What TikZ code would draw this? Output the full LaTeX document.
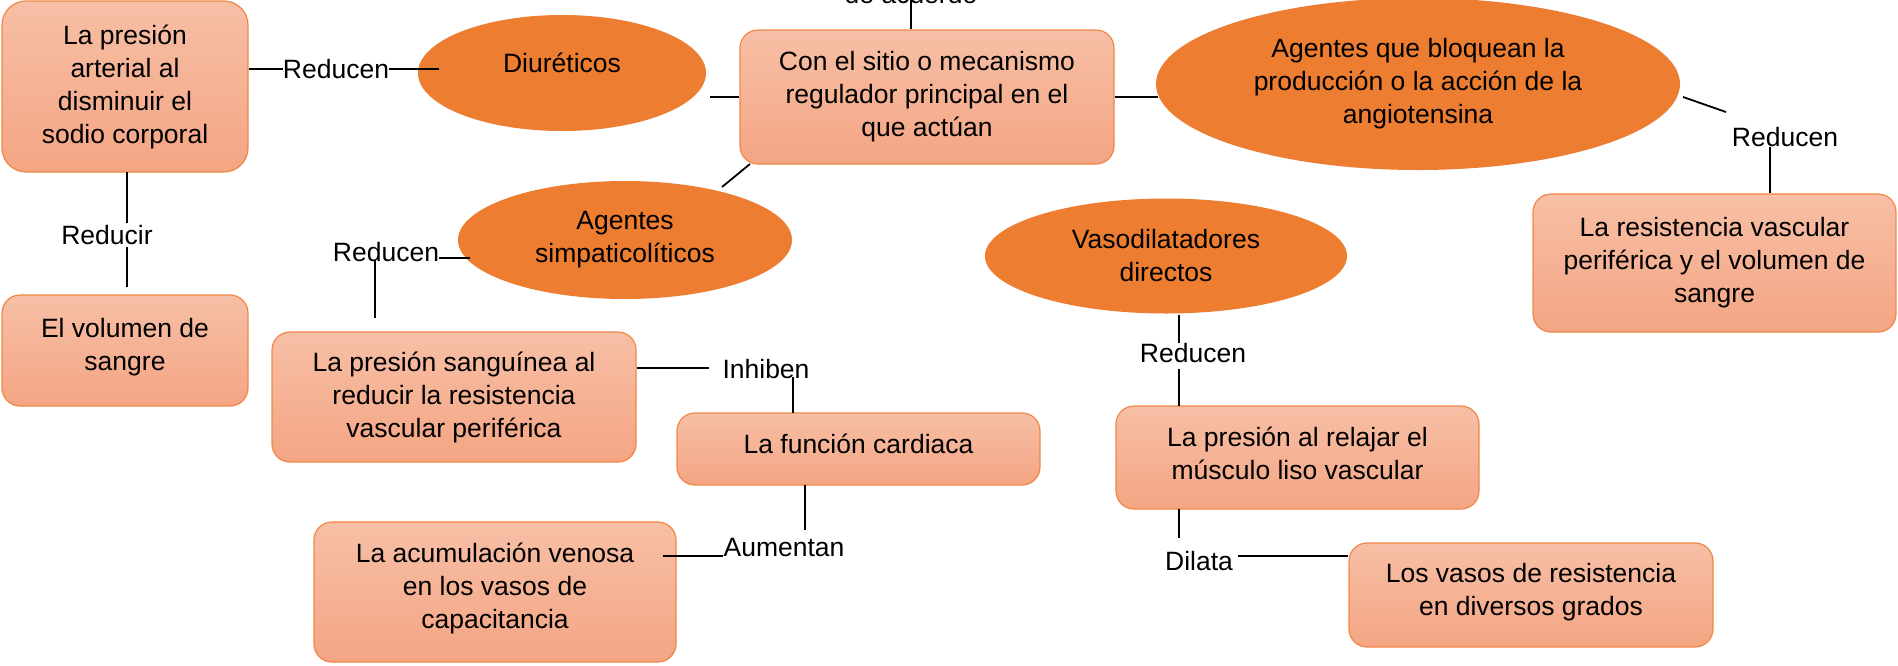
\documentclass[tikz,border=0pt]{standalone}
\usepackage{fontspec}
\setmainfont{Liberation Sans}
\usetikzlibrary{shapes.geometric}
\definecolor{boxtop}{RGB}{247,191,166}
\definecolor{boxbot}{RGB}{244,165,131}
\definecolor{boxdraw}{RGB}{240,135,70}
\definecolor{ellfill}{RGB}{237,125,49}
\newcommand{\fs}{\fontsize{26.5}{33}\selectfont}
\tikzset{
  box/.style={rectangle, rounded corners=18pt, draw=boxdraw, line width=1.2pt,
    top color=boxtop, bottom color=boxbot, inner sep=0pt, align=center, font=\fs},
  ell/.style={ellipse, fill=ellfill, draw=none, inner sep=0pt, align=center, font=\fs},
  lbl/.style={inner sep=0pt, font=\fs},
  conn/.style={draw=black, line width=1.8pt},
}
\begin{document}
\begin{tikzpicture}[x=1pt,y=-1pt]
\useasboundingbox (0,0) rectangle (1898,665);
% ellipses
\node[ell, minimum width=288pt, minimum height=116pt] (diur) at (562,73) {};
\node[lbl] (diurt) at (562,63) {Diuréticos};
\node[ell, minimum width=524pt, minimum height=172pt] (B) at (1418,84) {Agentes que bloquean la\\producción o la acción de la\\angiotensina};
\node[ell, minimum width=334pt, minimum height=118pt] (E) at (625,240) {Agentes\\simpaticolíticos};
\node[ell, minimum width=362pt, minimum height=115pt] (K) at (1166,256) {Vasodilatadores\\directos};
% boxes
\node[box, rounded corners=24pt, minimum width=246pt, minimum height=171pt] (A) at (125,86.5) {La presión\\arterial al\\disminuir el\\sodio corporal};
\node[box, minimum width=374pt, minimum height=134pt] (C) at (927,97) {Con el sitio o mecanismo\\regulador principal en el\\que actúan};
\node[box, minimum width=363pt, minimum height=138pt] (D) at (1714.5,263) {La resistencia vascular\\periférica y el volumen de\\sangre};
\node[box, minimum width=364pt, minimum height=130pt] (F) at (454,397) {La presión sanguínea al\\reducir la resistencia\\vascular periférica};
\node[box, minimum width=363pt, minimum height=72pt, text depth=10pt] (G) at (858.5,449) {La función cardiaca};
\node[box, minimum width=362pt, minimum height=140pt, text depth=11.6pt] (H) at (495,592) {La acumulación venosa\\en los vasos de\\capacitancia};
\node[box, minimum width=246pt, minimum height=111pt, text depth=13pt] (I) at (125,350.5) {El volumen de\\sangre};
\node[box, minimum width=363pt, minimum height=103pt, text depth=8pt] (J) at (1297.5,457.5) {La presión al relajar el\\músculo liso vascular};
\node[box, minimum width=364pt, minimum height=104pt, text depth=11pt] (L) at (1531,595) {Los vasos de resistencia\\en diversos grados};
% labels
\node[lbl] (r1) at (336,69) {Reducen};
\node[lbl, anchor=base] (acu) at (911,3) {de acuerdo};
\node[lbl] (r5) at (1785,137) {Reducen};
\node[lbl] (r7) at (386,252) {Reducen};
\node[lbl] (r8) at (766,369) {Inhiben};
\node[lbl] (r9) at (784,548) {Aumentan};
\node[lbl] (r10) at (1193,353) {Reducen};
\node[lbl] (r11) at (1199,561) {Dilata};
\node[lbl] (r12) at (107,235) {Reducir};
% connectors
\draw[conn] (A.east |- r1) -- (r1.west);
\draw[conn] (r1.east) -- (439,69);
\draw[conn] (C.west) -- (710,97);
\draw[conn] (acu.center |- 0,0) -- (acu.center |- C.north);
\draw[conn] (C.east) -- (1158,97);
\draw[conn] (1683,97) -- (1726,112);
\coordinate (r5b) at (1770,147);
\draw[conn] (r5b) -- (r5b |- D.north);
\draw[conn] (750,164) -- (722,187);
\draw[conn] (r7.east |- 0,258) -- (470,258);
\draw[conn] (375,260) -- (375,318);
\draw[conn] (F.east |- 0,368) -- (709,368);
\draw[conn] (793,377) -- (793 ,413);
\draw[conn] (805,485) -- (805,530);
\draw[conn] (663,556) -- (723,556);
\draw[conn] (1179,315) -- (1179,343);
\draw[conn] (1179,369) -- (1179,406);
\draw[conn] (1179,509) -- (1179,538);
\draw[conn] (1238,556) -- (L.west |- 0,556);
\draw[conn] (127,172) -- (127,223);
\draw[conn] (127,247) -- (127,287);
\end{tikzpicture}
\end{document}
